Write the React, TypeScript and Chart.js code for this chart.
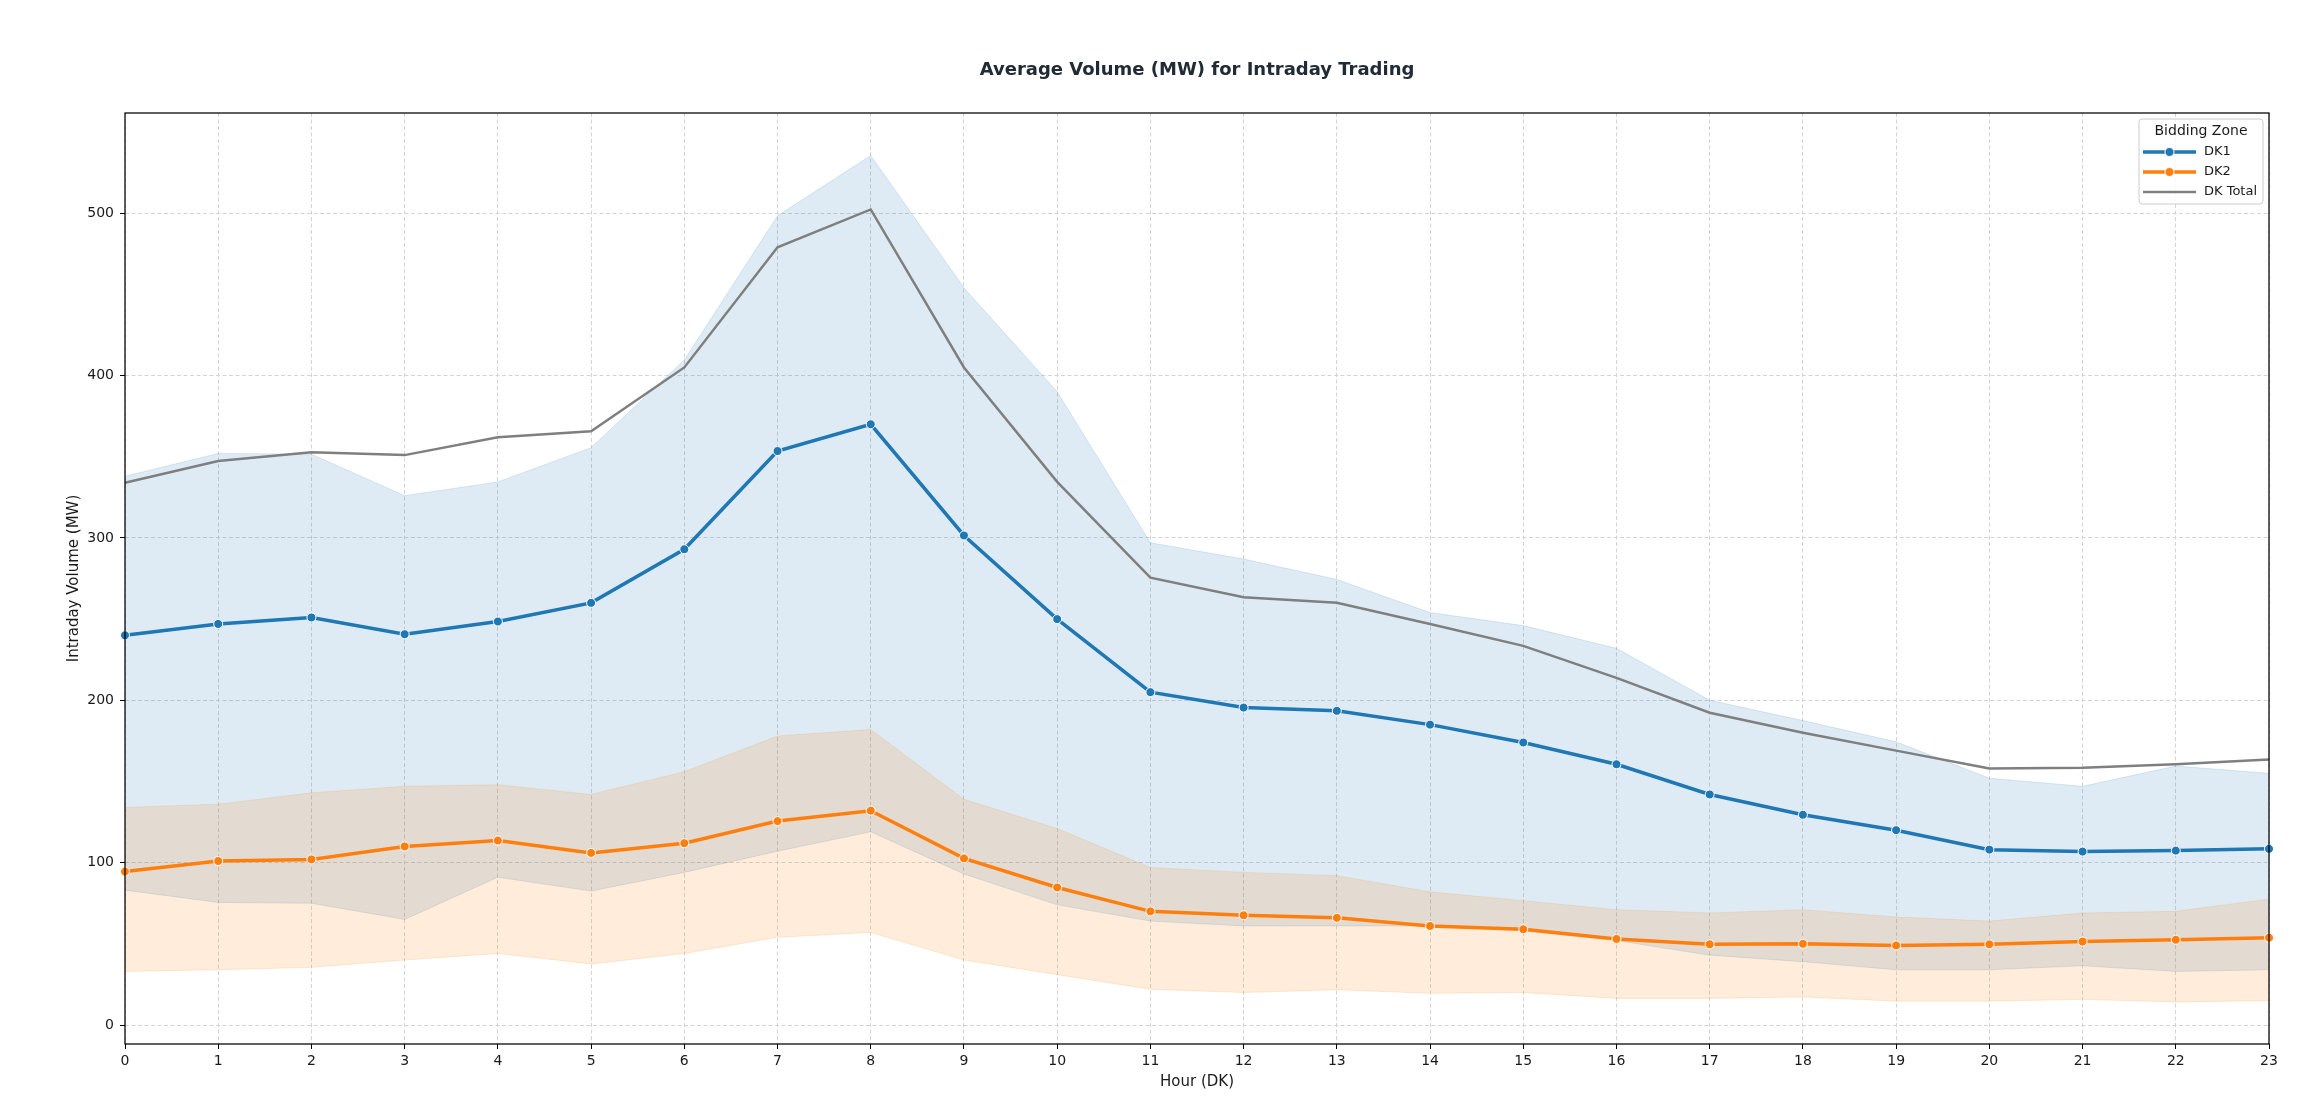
import { useEffect, useRef } from 'react'
import { Chart, registerables } from 'chart.js'

Chart.register(...registerables)

const hours = ['0', '1', '2', '3', '4', '5', '6', '7', '8', '9', '10', '11', '12', '13', '14', '15', '16', '17', '18', '19', '20', '21', '22', '23']

const dk1Mean = [240, 247, 251, 240.7, 248.5, 260, 293, 353.5, 370, 301.5, 250, 205, 195.5, 193.5, 185, 174, 160.6, 142, 129.5, 120, 108, 106.8, 107.4, 108.5]
const dk1Upper = [338, 352, 351.6, 326, 334.5, 355.6, 409.6, 498.4, 535.5, 454, 390, 297, 287, 274.4, 254, 246, 232, 200, 187.5, 174.4, 152, 147, 159.5, 155]
const dk1Lower = [83, 75.5, 75, 65, 91, 82.5, 94, 107, 119, 93, 74, 64, 61, 61, 61, 58, 52, 43, 39, 34, 34, 36.5, 33, 34]

const dk2Mean = [94.5, 101, 102, 110, 113.6, 106, 112, 125.6, 132, 102.6, 84.7, 70, 67.6, 66, 61, 59, 53, 49.7, 50, 49, 49.7, 51.4, 52.5, 53.8]
const dk2Upper = [134, 136, 143, 147, 148, 142, 156, 178, 182, 139, 121, 97, 94, 92, 82, 76.6, 71, 69, 71, 66.5, 64, 69, 70, 77.5]
const dk2Lower = [33, 34, 35.5, 40, 44, 37.6, 44, 54, 57, 40, 31, 22, 20, 21.7, 19.5, 20, 16.4, 16.4, 17.3, 14.7, 14.7, 15.8, 14.2, 15]

const dkTotal = [334, 347.4, 352.8, 351, 362, 365.7, 405, 479, 502.3, 405, 334.5, 275.5, 263.5, 260, 247, 233.5, 213.8, 192.3, 180, 169, 158, 158.4, 160.6, 163.5]

const yTicks = [0, 100, 200, 300, 400, 500]

const BLUE = '#1f77b4'
const ORANGE = '#ff7f0e'
const GRAY = '#7f7f7f'
const FONT = "'DejaVu Sans', sans-serif"

// axes frame + matplotlib-like legend box in the upper right
const frameLegendPlugin = {
  id: 'frameLegend',
  afterDraw(chart: any) {
    const { ctx, chartArea: a } = chart
    ctx.save()
    ctx.strokeStyle = '#000'
    ctx.lineWidth = 1.25
    ctx.strokeRect(a.left, a.top, a.right - a.left, a.bottom - a.top)

    const w = 124
    const h = 85
    const x = a.right - 6 - w
    const y = a.top + 6
    ctx.beginPath()
    ctx.roundRect(x, y, w, h, 3)
    ctx.fillStyle = 'rgba(255,255,255,0.8)'
    ctx.fill()
    ctx.strokeStyle = '#cccccc'
    ctx.lineWidth = 1
    ctx.stroke()

    ctx.fillStyle = '#1a1a1a'
    ctx.textBaseline = 'middle'
    ctx.textAlign = 'center'
    ctx.font = `14px ${FONT}`
    ctx.fillText('Bidding Zone', x + w / 2, y + 12)

    const items = chart.data.datasets.filter((d: any) => d.label)
    ctx.textAlign = 'left'
    ctx.font = `13px ${FONT}`
    items.forEach((d: any, i: number) => {
      const ry = y + 33 + i * 20
      ctx.beginPath()
      ctx.strokeStyle = d.borderColor
      ctx.lineWidth = d.borderWidth
      ctx.moveTo(x + 4, ry)
      ctx.lineTo(x + 57, ry)
      ctx.stroke()
      if (d.pointRadius > 0) {
        ctx.beginPath()
        ctx.arc(x + 30.5, ry, d.pointRadius, 0, Math.PI * 2)
        ctx.fillStyle = d.borderColor
        ctx.fill()
        ctx.strokeStyle = '#fff'
        ctx.lineWidth = 1
        ctx.stroke()
      }
      ctx.fillStyle = '#1a1a1a'
      ctx.fillText(d.label, x + 65, ry)
    })
    ctx.restore()
  },
}

export default function App() {
  const canvasRef = useRef<HTMLCanvasElement>(null)
  const chartRef = useRef<Chart | null>(null)

  useEffect(() => {
    if (!canvasRef.current) return
    if (chartRef.current) chartRef.current.destroy()

    const band = (data: number[], color: string, fill: any, order: number) => ({
      label: '',
      data,
      borderColor: color,
      backgroundColor: color,
      borderWidth: 1,
      pointRadius: 0,
      fill,
      order,
    })

    const line = (label: string, data: number[], color: string, width: number, radius: number, order: number) => ({
      label,
      data,
      borderColor: color,
      backgroundColor: color,
      borderWidth: width,
      pointRadius: radius,
      pointBackgroundColor: color,
      pointBorderColor: '#ffffff',
      pointBorderWidth: 1,
      fill: false,
      tension: 0,
      order,
    })

    chartRef.current = new Chart(canvasRef.current, {
      type: 'line',
      data: {
        labels: hours,
        datasets: [
          band(dk1Upper, 'rgba(31,119,180,0.15)', false, 6),
          band(dk1Lower, 'rgba(31,119,180,0.15)', '-1', 6),
          band(dk2Upper, 'rgba(255,127,14,0.15)', false, 5),
          band(dk2Lower, 'rgba(255,127,14,0.15)', '-1', 5),
          line('DK1', dk1Mean, BLUE, 3.5, 4.5, 3),
          line('DK2', dk2Mean, ORANGE, 3.5, 4.5, 2),
          line('DK Total', dkTotal, GRAY, 2.5, 0, 1),
        ] as any,
      },
      options: {
        responsive: true,
        maintainAspectRatio: false,
        animation: false,
        events: [],
        layout: { padding: { left: 0, right: 31, top: 0, bottom: 0 } },
        plugins: {
          legend: { display: false },
          tooltip: { enabled: false },
          title: {
            display: true,
            fullSize: false,
            text: 'Average Volume (MW) for Intraday Trading',
            color: '#212b36',
            font: { family: FONT, size: 18, weight: 'bold', lineHeight: 1.2 },
            padding: { top: 59.7, bottom: 31.7 },
          },
        },
        scales: {
          x: {
            type: 'category',
            offset: false,
            afterFit: (s: any) => { s.height = 72 },
            grid: { color: '#d4d4d4', lineWidth: 1, tickColor: '#000', tickLength: 5, tickWidth: 1 },
            border: { display: false, dash: [4, 2.5] },
            ticks: { color: '#1a1a1a', font: { family: FONT, size: 14 }, padding: 4, maxRotation: 0, autoSkip: false },
            title: {
              display: true,
              text: 'Hour (DK)',
              color: '#1a1a1a',
              font: { family: FONT, size: 15, lineHeight: 1.2 },
              padding: { top: 0, bottom: 25 },
            },
          },
          y: {
            type: 'linear',
            min: -11.7,
            max: 561.7,
            afterFit: (s: any) => { s.width = 125 },
            afterBuildTicks: (s: any) => { s.ticks = yTicks.map((v) => ({ value: v })) },
            grid: { color: '#d4d4d4', lineWidth: 1, tickColor: '#000', tickLength: 5, tickWidth: 1 },
            border: { display: false, dash: [4, 2.5] },
            ticks: { color: '#1a1a1a', font: { family: FONT, size: 14 }, padding: 6 },
            title: {
              display: true,
              text: 'Intraday Volume (MW)',
              color: '#1a1a1a',
              font: { family: FONT, size: 15, lineHeight: 1.2 },
              padding: { top: 65, bottom: 0 },
            },
          },
        },
      },
      plugins: [frameLegendPlugin],
    })

    return () => {
      if (chartRef.current) {
        chartRef.current.destroy()
        chartRef.current = null
      }
    }
  }, [])

  return (
    <div style={{ position: 'fixed', left: 0, top: 0, width: '2300px', height: '1116px', background: '#fff' }}>
      <canvas ref={canvasRef}></canvas>
    </div>
  )
}
